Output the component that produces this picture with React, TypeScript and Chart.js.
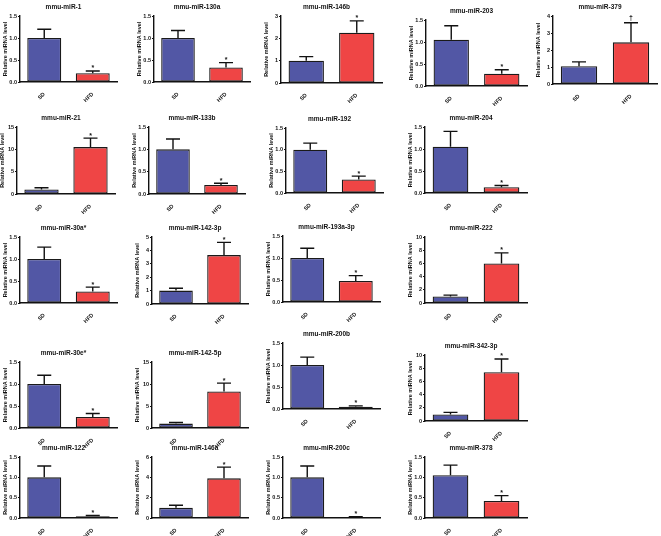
import React, { useEffect, useRef } from "react";
import { Chart, registerables } from "chart.js";
Chart.register(...registerables);

const groups = ["SD", "HFD"];
const titles = [
  "mmu-miR-1", "mmu-miR-130a", "mmu-miR-146b", "mmu-miR-203", "mmu-miR-379",
  "mmu-miR-21", "mmu-miR-133b", "mmu-miR-192", "mmu-miR-204",
  "mmu-miR-30a*", "mmu-miR-142-3p", "mmu-miR-193a-3p", "mmu-miR-222",
  "mmu-miR-30e*", "mmu-miR-142-5p", "mmu-miR-200b", "mmu-miR-342-3p",
  "mmu-miR-122", "mmu-miR-146a", "mmu-miR-200c", "mmu-miR-378",
];
const sdMeans = [1.0, 1.0, 1.0, 1.05, 1.05, 1.0, 1.0, 1.0, 1.05, 1.0, 1.0, 1.0, 1.0, 1.0, 1.0, 1.0, 1.0, 1.0, 1.0, 1.0, 1.05];
const sdErrors = [0.2, 0.17, 0.18, 0.32, 0.25, 0.4, 0.23, 0.15, 0.35, 0.27, 0.17, 0.22, 0.2, 0.2, 0.25, 0.18, 0.3, 0.28, 0.25, 0.28, 0.25];
const hfdMeans = [0.2, 0.33, 2.25, 0.28, 2.45, 10.5, 0.2, 0.31, 0.13, 0.26, 3.65, 0.48, 6.0, 0.25, 8.3, 0.05, 7.4, 0.04, 3.9, 0.02, 0.42];
const hfdErrors = [0.05, 0.11, 0.53, 0.09, 1.15, 2.0, 0.04, 0.08, 0.04, 0.1, 0.95, 0.12, 1.6, 0.08, 1.9, 0.02, 2.0, 0.02, 1.1, 0.01, 0.13];
const yMaxes = [1.5, 1.5, 3, 1.5, 4, 15, 1.5, 1.5, 1.5, 1.5, 5, 1.5, 10, 1.5, 15, 1.5, 10, 1.5, 6, 1.5, 1.5];
const ySteps = [0.5, 0.5, 1, 0.5, 1, 5, 0.5, 0.5, 0.5, 0.5, 1, 0.5, 2, 0.5, 5, 0.5, 2, 0.5, 2, 0.5, 0.5];
const marks = ["*", "*", "*", "*", "\u2020", "*", "*", "*", "*", "*", "*", "*", "*", "*", "*", "*", "*", "*", "*", "*", "*"];
const yTitle = "Relative miRNA level";

// layout boxes: [axisX, topY, rightX, zeroY] in page pixels
const boxes = [
  [20, 16, 117, 82], [154, 16, 250, 82], [281, 16, 382, 83], [426, 20, 527, 86], [553, 16, 657, 84],
  [17, 127, 115, 194], [149, 127, 245, 194], [286, 128, 383, 193], [425, 127, 527, 193],
  [20, 237, 117, 303], [152, 237, 248, 304], [283, 236, 380, 302], [425, 237, 527, 303],
  [20, 362, 117, 428], [152, 362, 248, 428], [283, 343, 380, 409], [425, 355, 527, 421],
  [20, 457, 117, 518], [152, 457, 248, 518], [283, 457, 380, 518], [425, 457, 527, 518],
];

const BLUE = "#5257A5";
const RED = "#EF4545";
const FONT = "'Liberation Sans', Arial, sans-serif";
const YW = 18, PT = 14, PR = 4, XH = 20;

function Panel({ i }: { i: number }) {
  const ref = useRef<HTMLCanvasElement | null>(null);
  const [ax, top, right, zero] = boxes[i];
  const w = right - ax;
  const h = zero - top;
  useEffect(() => {
    const errPlugin = {
      id: "errbars" + i,
      afterDatasetsDraw(chart: any) {
        const ctx = chart.ctx;
        const meta = chart.getDatasetMeta(0);
        const ys = chart.scales.y;
        const means = [sdMeans[i], hfdMeans[i]];
        const errs = [sdErrors[i], hfdErrors[i]];
        ctx.save();
        ctx.strokeStyle = "#111";
        ctx.lineWidth = 1.4;
        meta.data.forEach((bar: any, k: number) => {
          const yTop = ys.getPixelForValue(means[k]);
          const yE = ys.getPixelForValue(means[k] + errs[k]);
          const cap = 7;
          ctx.beginPath();
          ctx.moveTo(bar.x, yTop);
          ctx.lineTo(bar.x, yE);
          ctx.moveTo(bar.x - cap, yE);
          ctx.lineTo(bar.x + cap, yE);
          ctx.stroke();
          if (k === 1) {
            ctx.fillStyle = "#111";
            ctx.font = "bold 7px " + FONT;
            ctx.textAlign = "center";
            ctx.textBaseline = "bottom";
            ctx.fillText(marks[i], bar.x, yE + (marks[i] === "*" ? 1 : -1));
          }
        });
        ctx.fillStyle = "#111";
        ctx.font = "bold 6.5px " + FONT;
        ctx.textAlign = "center";
        ctx.textBaseline = "middle";
        ctx.fillText(titles[i], chart.width / 2 + 2, chart.chartArea.top - 9);
        ctx.restore();
      },
    };
    const chart = new Chart(ref.current as HTMLCanvasElement, {
      type: "bar",
      data: {
        labels: groups,
        datasets: [
          {
            data: [sdMeans[i], hfdMeans[i]],
            backgroundColor: [BLUE, RED],
            borderColor: "#1a1a1a",
            borderWidth: 1.3,
            borderSkipped: false,
            barPercentage: 0.7,
            categoryPercentage: 1,
          },
        ],
      },
      options: {
        animation: false,
        responsive: false,
        layout: { padding: { top: PT, right: PR, left: 0, bottom: 0 } },
        plugins: { legend: { display: false }, tooltip: { enabled: false }, title: { display: false } },
        scales: {
          x: {
            grid: { display: false },
            border: { color: "#111", width: 1.4 },
            ticks: { maxRotation: 45, minRotation: 45, color: "#111", padding: 1, font: { family: FONT, size: 5.5, weight: "bold" } },
            afterFit: (s: any) => { s.height = XH; },
          },
          y: {
            min: 0,
            max: yMaxes[i],
            border: { color: "#111", width: 1.4 },
            grid: { drawOnChartArea: false, tickLength: 2, color: "#111", lineWidth: 1 },
            ticks: {
              stepSize: ySteps[i],
              color: "#111",
              padding: 1,
              font: { family: FONT, size: 5.5, weight: "bold" },
              callback: (v: any) => (ySteps[i] < 1 ? Number(v).toFixed(1) : String(v)),
            },
            title: { display: true, text: yTitle, color: "#111", padding: { top: 0, bottom: 0 }, font: { family: FONT, size: 5.5, weight: "bold" } },
            afterFit: (s: any) => { s.width = YW; },
          },
        },
      } as any,
      plugins: [errPlugin],
    });
    return () => chart.destroy();
  }, []);
  const cw = YW + w + PR;
  const ch = PT + h + XH;
  return (
    <canvas
      ref={ref}
      width={cw}
      height={ch}
      style={{ position: "absolute", left: ax - YW, top: top - PT, width: cw, height: ch }}
    />
  );
}

export default function App() {
  return (
    <div style={{ position: "fixed", left: 0, top: 0, width: 661, height: 536, background: "#fff", overflow: "hidden" }}>
      {titles.map((_, i) => (
        <Panel key={i} i={i} />
      ))}
    </div>
  );
}
